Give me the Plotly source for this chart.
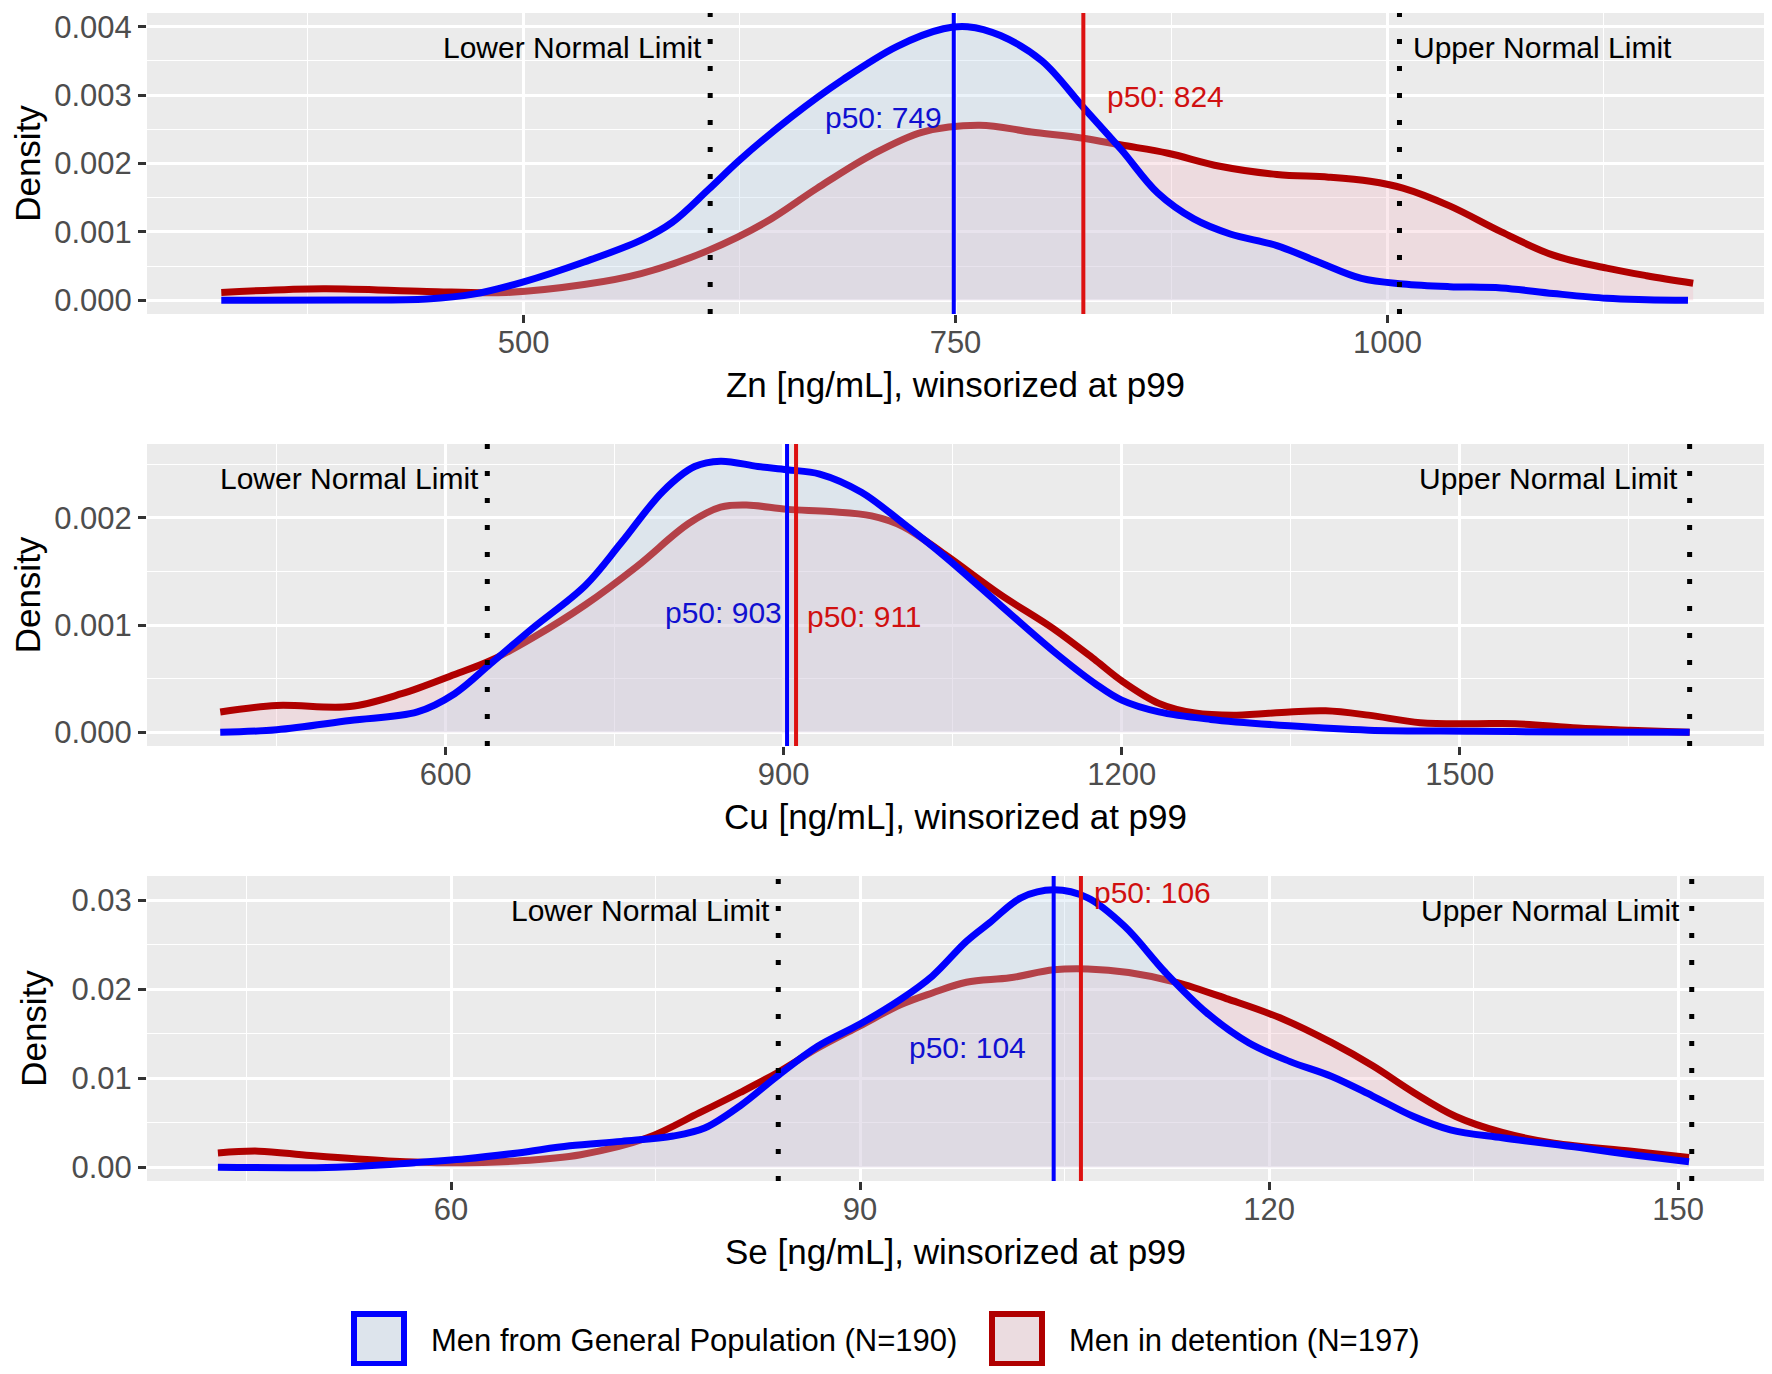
import plotly.graph_objects as go
from plotly.subplots import make_subplots

# ---- data ----
groups = ["Men from General Population (N=190)", "Men in detention (N=197)"]

# Zn
zn_gen_x = [325, 400, 444, 471, 500, 535, 568, 586, 607, 625, 655, 685, 716, 743, 757, 776,
            800, 824, 846, 867, 888, 909, 936, 960, 985, 1009, 1036, 1066, 1096, 1127, 1150, 1174]
zn_gen_y = [0, 0.000005, 0.00002, 0.00009, 0.00027, 0.00056, 0.00088, 0.00114, 0.00162, 0.00205,
            0.00268, 0.00323, 0.00371, 0.00397, 0.00400, 0.00387, 0.0035, 0.00282, 0.0022, 0.00157,
            0.00119, 0.00097, 0.0008, 0.00056, 0.00032, 0.00024, 0.0002, 0.00018, 0.0001, 0.00003,
            0.00001, 0.0]
zn_det_x = [325, 384, 444, 490, 535, 568, 607, 640, 670, 701, 731, 764, 794, 824, 846, 873, 903,
            936, 966, 990, 1009, 1036, 1066, 1096, 1127, 1150, 1177]
zn_det_y = [0.000115, 0.00017, 0.00013, 0.000115, 0.00023, 0.00039, 0.00073, 0.00114, 0.00164,
            0.00212, 0.00246, 0.00256, 0.00246, 0.00237, 0.00227, 0.00215, 0.00196, 0.00184,
            0.0018, 0.00174, 0.00164, 0.00138, 0.001, 0.00066, 0.00047, 0.00036, 0.00025]
zn_medians = [749, 824]
zn_limits = [608, 1007]

# Cu
cu_gen_x = [400, 450, 515, 575, 608, 640, 677, 724, 756, 793, 821, 844, 877, 903, 932, 969, 1006,
            1043, 1093, 1139, 1177, 1200, 1233, 1279, 1349, 1419, 1512, 1600, 1704]
cu_gen_y = [0, 0.000024, 0.00011, 0.00019, 0.00036, 0.00064, 0.00097, 0.00137, 0.00177, 0.00225,
            0.00248, 0.00253, 0.00248, 0.00245, 0.00241, 0.00224, 0.00195, 0.00164, 0.00118,
            0.00076, 0.00045, 0.0003, 0.00019, 0.00012, 0.00006, 0.00002, 0.00001, 0.000003, 0]
cu_det_x = [400, 450, 515, 561, 608, 640, 677, 724, 770, 816, 844, 867, 903, 941, 978, 1006, 1043,
            1093, 1139, 1177, 1200, 1233, 1265, 1302, 1349, 1381, 1419, 1465, 1512, 1549, 1605,
            1651, 1704]
cu_det_y = [0.00019, 0.00025, 0.00024, 0.00036, 0.00054, 0.00067, 0.00088, 0.00119, 0.00155,
            0.00195, 0.0021, 0.00212, 0.00208, 0.00206, 0.00202, 0.00192, 0.00166, 0.00128,
            0.00097, 0.00067, 0.00048, 0.00027, 0.00018, 0.00016, 0.00019, 0.0002, 0.00016,
            0.00009, 0.00008, 0.00008, 0.00004, 0.00002, 0.0]
cu_medians = [903, 911]
cu_limits = [637, 1704]

# Se
se_gen_x = [42.9, 51.6, 57.3, 61.1, 64.9, 68.7, 72.5, 76.3, 78.6, 81.2, 83.9, 86.9, 90, 93, 95.3,
            97.8, 99.5, 101.8, 104.2, 106.7, 109.4, 112.4, 115.4, 118.5, 121.5, 124.6, 127.6,
            130.6, 133.3, 137.1, 142.8, 146.6, 150.8]
se_gen_y = [0, 0, 0.0005, 0.00094, 0.0016, 0.0024, 0.0029, 0.0035, 0.0044, 0.0069, 0.0102,
            0.0136, 0.0161, 0.0189, 0.0215, 0.0254, 0.0275, 0.0303, 0.0312, 0.0303, 0.0271,
            0.0219, 0.0174, 0.014, 0.0119, 0.0102, 0.008, 0.0057, 0.0042, 0.0033, 0.0022,
            0.0014, 0.0006]
se_det_x = [42.9, 45.9, 49.7, 55.4, 60, 64.9, 69.5, 74.4, 78.2, 81.2, 83.9, 86.9, 90, 93, 95.3,
            97.8, 101, 104.2, 106.7, 109.7, 113.2, 117, 120.8, 124.6, 127.6, 130.6, 133.7, 137.1,
            140.9, 146.6, 150.8]
se_det_y = [0.0016, 0.0018, 0.0013, 0.0007, 0.0005, 0.0007, 0.0014, 0.0033, 0.0061, 0.0084,
            0.0106, 0.0134, 0.0159, 0.0183, 0.0196, 0.0208, 0.0213, 0.0222, 0.0223, 0.0219,
            0.0208, 0.0189, 0.0168, 0.014, 0.0114, 0.0084, 0.0057, 0.0039, 0.0027, 0.0018, 0.0011]
se_medians = [104.2, 106.2]
se_limits = [84, 151]

axis_titles = ["Zn [ng/mL], winsorized at p99", "Cu [ng/mL], winsorized at p99",
               "Se [ng/mL], winsorized at p99"]

# ---- styling ----
# the page body has an 8px margin, so the figure is sized to fit inside the window
OFF = 8
W, H = 1772 - 2 * OFF, 1374 - 2 * OFF
# panel edges in window pixels
LEFT = 147
panel_px = [(13, 314), (444, 746), (876, 1181)]
ML, MR = LEFT - OFF, 0
MT, MB = panel_px[0][0] - OFF, H - (panel_px[-1][1] - OFF)

FONT = "Liberation Sans, Arial, sans-serif"
BLUE, RED_LINE, RED_MED = "#0000FF", "#B00000", "#DD1111"
BLUE_FILL, RED_FILL = "rgba(188,215,238,0.3)", "rgba(242,182,195,0.3)"

panels = [
    dict(gen=(zn_gen_x, zn_gen_y), det=(zn_det_x, zn_det_y), med=zn_medians, lim=zn_limits,
         xr=[282, 1218], yr=[-0.0002, 0.0042], dx=250, dy=0.001, fmt=".3f",
         lim_y=0.0037, upper_side="right",
         med_y=(0.00267, 0.00298), med_shift=(-10, 22)),
    dict(gen=(cu_gen_x, cu_gen_y), det=(cu_det_x, cu_det_y), med=cu_medians, lim=cu_limits,
         xr=[335, 1770], yr=[-0.000128, 0.00269], dx=300, dy=0.001, fmt=".3f",
         lim_y=0.00237, upper_side="left",
         med_y=(0.00112, 0.00108), med_shift=(-3, 9)),
    dict(gen=(se_gen_x, se_gen_y), det=(se_det_x, se_det_y), med=se_medians, lim=se_limits,
         xr=[37.7, 156.3], yr=[-0.00156, 0.03276], dx=30, dy=0.01, fmt=".2f",
         lim_y=0.0289, upper_side="left",
         med_y=(0.0135, 0.0309), med_shift=(-26, 11)),
]

plot_h = H - MT - MB
plot_w = W - ML - MR


def py(p):
    # window y pixel -> paper fraction
    return (H - MB - (p - OFF)) / plot_h


def px(p):
    # window x pixel -> paper fraction
    return (p - OFF - ML) / plot_w


fig = make_subplots(rows=3, cols=1)

for i, p in enumerate(panels):
    r = i + 1
    for (xs, ys), lc, fc in [(p["det"], RED_LINE, RED_FILL), (p["gen"], BLUE, BLUE_FILL)]:
        fig.add_trace(go.Scatter(x=xs, y=ys, mode="lines", fill="tozeroy", fillcolor=fc,
                                 line=dict(color=lc, width=7, shape="spline", smoothing=1.0),
                                 hoverinfo="skip", showlegend=False), row=r, col=1)

    xa = "x" if i == 0 else f"x{r}"
    ya = "y" if i == 0 else f"y{r}"

    # normal limits (dotted)
    for v in p["lim"]:
        fig.add_shape(type="line", x0=v, x1=v, y0=0, y1=1, xref=xa, yref=f"{ya} domain",
                      line=dict(color="black", width=5, dash="5px,22px"))
    # medians
    for v, c in zip(p["med"], [BLUE, RED_MED]):
        fig.add_shape(type="line", x0=v, x1=v, y0=0, y1=1, xref=xa, yref=f"{ya} domain",
                      line=dict(color=c, width=4))

    # limit labels
    lo, hi = p["lim"]
    fig.add_annotation(x=lo, y=p["lim_y"], xref=xa, yref=ya, text="Lower Normal Limit",
                       showarrow=False, xanchor="right", xshift=-6,
                       font=dict(size=30, color="black"))
    if p["upper_side"] == "right":
        fig.add_annotation(x=hi, y=p["lim_y"], xref=xa, yref=ya, text="Upper Normal Limit",
                           showarrow=False, xanchor="left", xshift=12,
                           font=dict(size=30, color="black"))
    else:
        fig.add_annotation(x=hi, y=p["lim_y"], xref=xa, yref=ya, text="Upper Normal Limit",
                           showarrow=False, xanchor="right", xshift=-10,
                           font=dict(size=30, color="black"))

    # median labels
    for v, yv, sh, c, anc in zip(p["med"], p["med_y"], p["med_shift"], ["#1010D0", "#D01010"],
                                 ["right", "left"]):
        fig.add_annotation(x=v, y=yv, xref=xa, yref=ya, text=f"p50: {round(v)}",
                           showarrow=False, xanchor=anc, xshift=sh,
                           font=dict(size=30, color=c))

    top, bot = panel_px[i]
    fig.update_xaxes(row=r, col=1, range=p["xr"], domain=[0, 1], dtick=p["dx"], tick0=0,
                     minor=dict(dtick=p["dx"] / 2, showgrid=True, gridcolor="white", gridwidth=1.4),
                     showgrid=True, gridcolor="white", gridwidth=2.8, zeroline=False,
                     ticks="outside", ticklen=8, tickwidth=2.5, tickcolor="#333333",
                     tickfont=dict(size=31, color="#4D4D4D"), ticklabelstandoff=-7,
                     ticklabeloverflow="allow", automargin=False,
                     title=dict(text=axis_titles[i], font=dict(size=35, color="black"), standoff=13))
    fig.update_yaxes(row=r, col=1, range=p["yr"], domain=[py(bot), py(top)], dtick=p["dy"],
                     tick0=0, tickformat=p["fmt"],
                     minor=dict(dtick=p["dy"] / 2, showgrid=True, gridcolor="white", gridwidth=1.4),
                     showgrid=True, gridcolor="white", gridwidth=2.8, zeroline=False,
                     ticks="outside", ticklen=8, tickwidth=2.5, tickcolor="#333333",
                     tickfont=dict(size=31, color="#4D4D4D"), ticklabeloverflow="allow",
                     automargin=False,
                     title=dict(text="Density", font=dict(size=35, color="black"), standoff=14))

# manual legend at the bottom (window pixels)
legend_items = [(groups[0], BLUE, "#DDE4EC", 351, 429), (groups[1], RED_LINE, "#EBDCE0", 989, 1067)]
for name, lc, fc, bx, tx in legend_items:
    fig.add_shape(type="rect", xref="paper", yref="paper",
                  x0=px(bx + 3), x1=px(bx + 53), y0=py(1314), y1=py(1364),
                  line=dict(color=lc, width=6), fillcolor=fc)
    fig.add_annotation(x=px(tx), y=py(1340), xref="paper", yref="paper", text=name,
                       showarrow=False, xanchor="left", yanchor="middle",
                       font=dict(size=31, color="black"))

fig.update_layout(
    width=W, height=H,
    margin=dict(l=ML, r=MR, t=MT, b=MB),
    paper_bgcolor="white", plot_bgcolor="#EBEBEB",
    font=dict(family=FONT, color="black"),
    showlegend=False,
)

fig.write_html("out.html")
